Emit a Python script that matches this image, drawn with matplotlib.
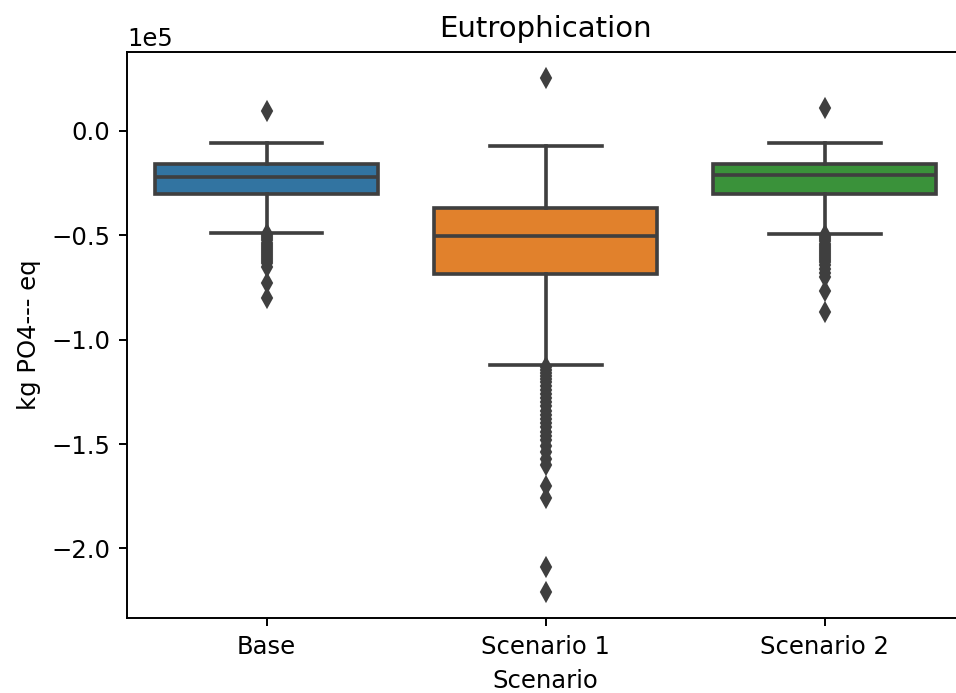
import matplotlib
matplotlib.use("Agg")
import matplotlib.pyplot as plt

# summary statistics per scenario, in kg PO4--- eq
scenarios = ["Base", "Scenario 1", "Scenario 2"]
q1 = [-0.303e5, -0.684e5, -0.303e5]
median = [-0.220e5, -0.502e5, -0.212e5]
q3 = [-0.159e5, -0.371e5, -0.161e5]
whisker_low = [-0.487e5, -1.122e5, -0.493e5]
whisker_high = [-0.059e5, -0.075e5, -0.059e5]

outliers_base = [0.096e5, -0.495e5, -0.505e5, -0.515e5, -0.525e5, -0.535e5, -0.545e5,
                 -0.555e5, -0.565e5, -0.575e5, -0.585e5, -0.595e5, -0.605e5, -0.615e5,
                 -0.625e5, -0.635e5, -0.650e5, -0.730e5, -0.800e5]
outliers_s1 = [0.254e5, -1.130e5, -1.145e5, -1.160e5, -1.175e5, -1.190e5, -1.205e5,
               -1.220e5, -1.240e5, -1.260e5, -1.280e5, -1.300e5, -1.320e5, -1.340e5,
               -1.360e5, -1.380e5, -1.400e5, -1.420e5, -1.440e5, -1.460e5, -1.480e5,
               -1.510e5, -1.540e5, -1.570e5, -1.600e5, -1.700e5, -1.760e5,
               -2.090e5, -2.210e5]
outliers_s2 = [0.107e5, -0.500e5, -0.510e5, -0.520e5, -0.530e5, -0.540e5, -0.550e5,
               -0.560e5, -0.570e5, -0.580e5, -0.590e5, -0.600e5, -0.610e5, -0.620e5,
               -0.630e5, -0.645e5, -0.660e5, -0.680e5, -0.700e5, -0.766e5, -0.869e5]
outliers = [outliers_base, outliers_s1, outliers_s2]

box_colors = ["#3274a1", "#e1812c", "#3a923a"]
line_color = "#3f3f3f"

# everything is drawn a bit larger than the matplotlib defaults
k = 1.165
plt.rcParams.update({
    "font.size": 10 * k,
    "axes.linewidth": 0.8 * k,
    "xtick.major.size": 3.5 * k, "ytick.major.size": 3.5 * k,
    "xtick.major.width": 0.8 * k, "ytick.major.width": 0.8 * k,
    "xtick.major.pad": 3.5 * k, "ytick.major.pad": 3.5 * k,
    "axes.labelpad": 4 * k, "axes.titlepad": 6 * k,
})

stats = []
for i, name in enumerate(scenarios):
    stats.append(dict(label=name, q1=q1[i], med=median[i], q3=q3[i],
                      whislo=whisker_low[i], whishi=whisker_high[i],
                      fliers=outliers[i]))

fig = plt.figure(figsize=(956 / 150, 693 / 150), dpi=150)
ax = fig.add_axes([0.1328, 0.1082, 0.876, 0.8167])

lw = 1.5 * k
line_kw = dict(color=line_color, linewidth=lw)
bp = ax.bxp(stats, positions=range(len(scenarios)), widths=0.8, patch_artist=True,
            capwidths=0.4,
            boxprops=dict(edgecolor=line_color, linewidth=lw),
            medianprops=line_kw, whiskerprops=line_kw, capprops=line_kw,
            flierprops=dict(marker="d", markersize=5 * k, markerfacecolor=line_color,
                            markeredgecolor=line_color, linestyle="none"))
for patch, c in zip(bp["boxes"], box_colors):
    patch.set_facecolor(c)

ax.set_xlim(-0.5, len(scenarios) - 0.5)
ax.set_xticks(range(len(scenarios)))
ax.set_xticklabels(scenarios)
ax.ticklabel_format(axis="y", style="sci", scilimits=(0, 0))
ax.set_xlabel("Scenario")
ax.set_ylabel("kg PO4--- eq")
ax.set_title("Eutrophication")

fig.savefig("out.png", dpi=150)
